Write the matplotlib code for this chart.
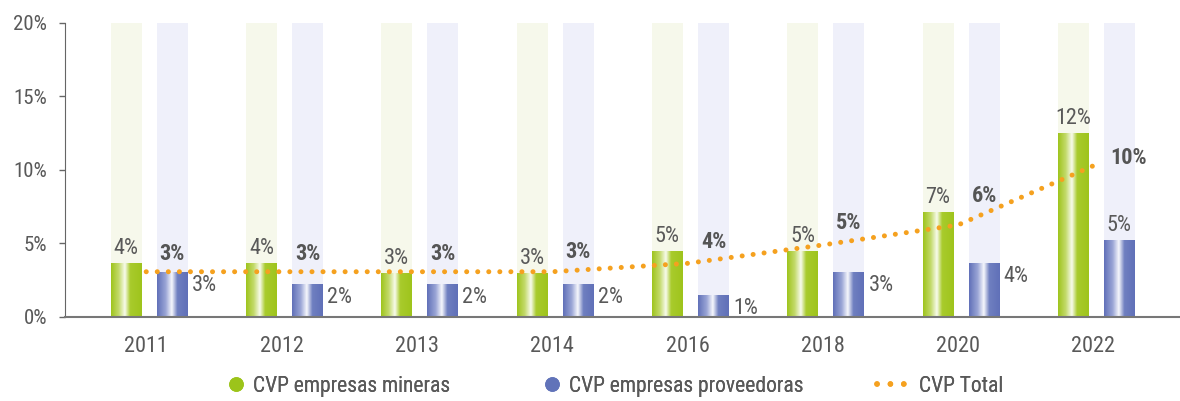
import numpy as np
import matplotlib
matplotlib.use("Agg")
import matplotlib.pyplot as plt
from matplotlib.colors import LinearSegmentedColormap
from matplotlib.lines import Line2D

plt.rcParams['font.family'] = ['Roboto Condensed', 'Archivo Narrow', 'DejaVu Sans']

# Data (percent)
years = ['2011', '2012', '2013', '2014', '2016', '2018', '2020', '2022']
mineras = [3.67, 3.67, 2.97, 2.97, 4.47, 4.47, 7.12, 12.49]
proveedoras = [3.0, 2.22, 2.22, 2.22, 1.48, 3.0, 3.65, 5.22]
total = [3.06, 3.06, 3.06, 3.06, 3.63, 4.88, 6.24, 10.27]
lbl_mineras = ['4%', '4%', '3%', '3%', '5%', '5%', '7%', '12%']
lbl_proveedoras = ['3%', '2%', '2%', '2%', '1%', '3%', '4%', '5%']
lbl_total = ['3%', '3%', '3%', '3%', '4%', '5%', '6%', '10%']
series_names = ['CVP empresas mineras', 'CVP empresas proveedoras', 'CVP Total']

GREEN = '#9cc41a'
BLUE = '#6173b9'
ORANGE = '#f5a11f'
TXT = '#595959'

fig = plt.figure(figsize=(11.8, 4.01), dpi=100)
ax = fig.add_axes([0.0551, 0.2102, 0.9449, 0.7332])

x = np.arange(len(years))
w = 0.229
off_g, off_b = -0.148, 0.192

green_cmap = LinearSegmentedColormap.from_list(
    'g', [(0, '#9ec41c'), (0.25, '#c3da6a'), (0.45, '#f8fbec'), (0.62, '#a9cb2c'), (1, '#9ec41c')])
blue_cmap = LinearSegmentedColormap.from_list(
    'b', [(0, '#6070b8'), (0.28, '#9aa5d6'), (0.48, '#f6f7fc'), (0.66, '#6f7fc0'), (1, '#6070b8')])
grad = np.linspace(0, 1, 256).reshape(1, -1)

# pale background bars
ax.bar(x + off_g, [20] * len(x), w, color='#f6f8eb', zorder=1)
ax.bar(x + off_b, [20] * len(x), w, color='#eff0fa', zorder=1)

bars_g = ax.bar(x + off_g, mineras, w, color='none', zorder=2)
bars_b = ax.bar(x + off_b, proveedoras, w, color='none', zorder=2)
for bars, cm in ((bars_g, green_cmap), (bars_b, blue_cmap)):
    for r in bars:
        ax.imshow(grad, cmap=cm, aspect='auto', zorder=2,
                  extent=[r.get_x(), r.get_x() + r.get_width(), 0, r.get_height()])

ax.plot(x, total, color=ORANGE, lw=3.6, linestyle=(0, (0.01, 2.2)),
        dash_capstyle='round', zorder=4)

# labels
n = len(x)
for i in range(n):
    ax.annotate(lbl_mineras[i], (x[i] + off_g, mineras[i]), xytext=(0, 3),
                textcoords='offset points', ha='center', va='bottom',
                fontsize=16, color=TXT, zorder=5)
    if i == n - 1:
        ax.annotate(lbl_proveedoras[i], (x[i] + off_b, proveedoras[i]), xytext=(0, 3),
                    textcoords='offset points', ha='center', va='bottom',
                    fontsize=16, color=TXT, zorder=5)
        ax.annotate(lbl_total[i], (x[i], total[i]), xytext=(12, 5.5),
                    textcoords='offset points', ha='left', va='center',
                    fontsize=16, fontweight='bold', color='#555555', zorder=5)
    else:
        ax.annotate(lbl_proveedoras[i], (x[i] + off_b + w / 2, proveedoras[i]), xytext=(3, -2),
                    textcoords='offset points', ha='left', va='top',
                    fontsize=16, color=TXT, zorder=5)
        lx = x[i] + off_b
        ax.annotate(lbl_total[i], (lx, np.interp(lx, x, total)), xytext=(0, 5),
                    textcoords='offset points', ha='center', va='bottom',
                    fontsize=16, fontweight='bold', color='#555555', zorder=5)

ax.set_xlim(-0.6, 7.64)
ax.set_ylim(0, 20)
ax.set_yticks([0, 5, 10, 15, 20])
ax.set_yticklabels(['0%', '5%', '10%', '15%', '20%'])
ax.set_xticks(x)
ax.set_xticklabels(years)
ax.tick_params(axis='y', length=4, width=1, color='#666666', pad=9, labelsize=15, labelcolor=TXT)
ax.tick_params(axis='x', length=0, pad=14, labelsize=16, labelcolor=TXT)
for s in ('top', 'right'):
    ax.spines[s].set_visible(False)
ax.spines['left'].set_color('#666666')
ax.spines['bottom'].set_color('#777777')
ax.spines['bottom'].set_linewidth(1.5)
ax.spines['bottom'].set_zorder(6)

# legend: one entry per box so spacing follows the reference
handles = [
    Line2D([], [], marker='o', linestyle='none', color=GREEN, markersize=9.5),
    Line2D([], [], marker='o', linestyle='none', color=BLUE, markersize=9.5),
    Line2D([], [], color=ORANGE, lw=4, linestyle=(0, (0.01, 2.4)), dash_capstyle='round'),
]
leg_x = [0.1925, 0.4603, 0.7429]
leg_hl = [0.8, 0.8, 1.3]
leg_pad = [0.4, 0.4, 0.67]
for h, name, lx, hl, hp in zip(handles, series_names, leg_x, leg_hl, leg_pad):
    leg = fig.legend([h], [name], loc='center left', bbox_to_anchor=(lx, 0.0374),
                     frameon=False, fontsize=15.5, labelcolor=TXT, handlelength=hl,
                     handletextpad=hp, borderpad=0, borderaxespad=0)
    fig.add_artist(leg)

fig.savefig('out.png', dpi=100)
